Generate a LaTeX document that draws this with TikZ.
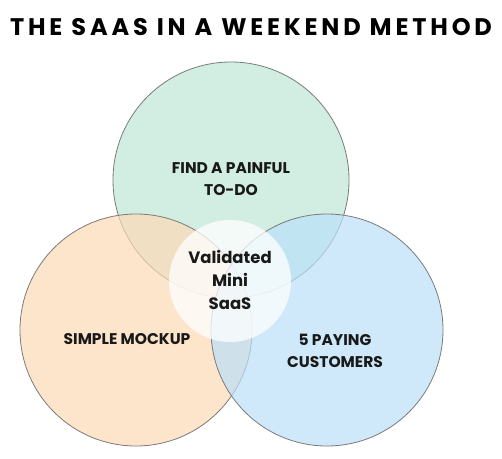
\documentclass[tikz,border=0pt]{standalone}
\usepackage{fontspec}
\setmainfont{Poppins}
\usetikzlibrary{positioning}
\definecolor{ringcol}{HTML}{7A7A7A}
\definecolor{findcol}{RGB}{191,231,214}
\definecolor{mockcol}{RGB}{252,218,182}
\definecolor{paycol}{RGB}{186,224,249}
\colorlet{textcol}{black!90}

\begin{document}
\begin{tikzpicture}[x=1pt, y=-1pt,
  ring/.style={circle, draw=ringcol, line width=0.8pt, fill opacity=0.7,
    inner sep=0pt},
  lbl/.style={font=\bfseries\fontsize{15.5}{22}\selectfont, align=center,
    text=textcol}]
  \useasboundingbox (0,0) rectangle (502,458);

  % Title.
  \node[font=\bfseries\fontsize{24}{28}\selectfont\addfontfeatures{LetterSpace=16},
    text=black] (title) at (251,27) {THE SAAS IN A WEEKEND METHOD};

  % Circles.
  \node[ring, fill=findcol, minimum size=236pt] (find) at (231,180) {};
  \node[ring, fill=mockcol, minimum size=232pt] (mock) at (136,330) {};
  \node[ring, fill=paycol, minimum size=232pt] (pay) at (327,330) {};

  % Centre overlap.
  \node[circle, fill=white, fill opacity=0.75, minimum size=122pt,
    inner sep=0pt] (core) at (230,281) {};

  % Labels.
  \node[lbl] (findtxt) at (231,179) {FIND A PAINFUL\\TO-DO};
  \node[lbl] (mocktxt) at (127,339) {SIMPLE MOCKUP};
  \node[lbl] (paytxt) at (335,351) {5 PAYING\\CUSTOMERS};
  \node[lbl, font=\bfseries\fontsize{16.5}{23}\selectfont] (coretxt) at (230,280)
    {Validated\\Mini\\SaaS};

\end{tikzpicture}
\end{document}
